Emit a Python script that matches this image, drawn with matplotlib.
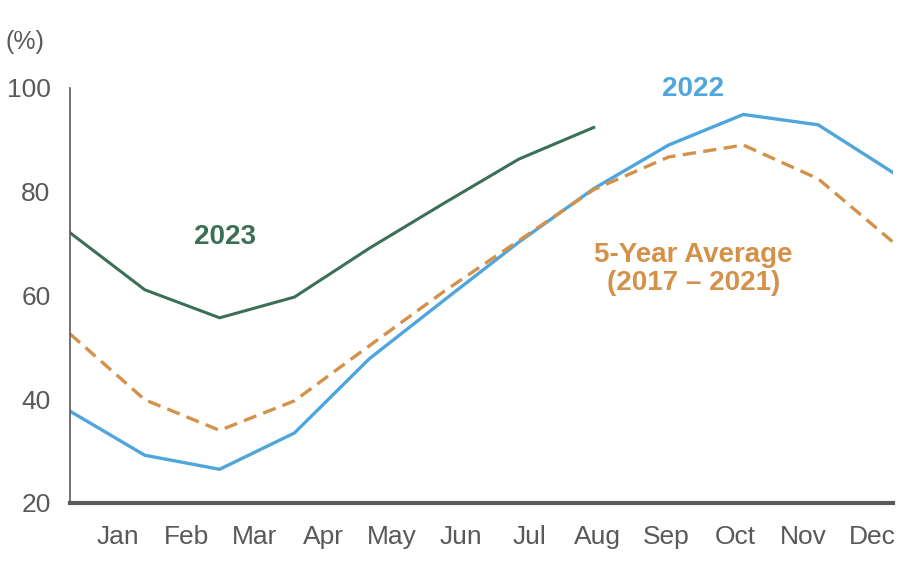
import numpy as np
import matplotlib
matplotlib.use("Agg")
import matplotlib.pyplot as plt

# monthly values, %
months = ['Jan', 'Feb', 'Mar', 'Apr', 'May', 'Jun', 'Jul', 'Aug', 'Sep', 'Oct', 'Nov', 'Dec']
y2023 = [72.1, 61.1, 55.7, 59.7, 69.1, 77.8, 86.3, 92.4]
y2022 = [37.7, 29.2, 26.5, 33.5, 47.8, 59.1, 70.3, 80.6, 89.0, 94.9, 92.9, 83.7]
avg5 = [52.6, 39.9, 34.0, 39.7, 50.3, 60.8, 70.6, 80.4, 86.7, 89.0, 82.5, 70.3]

green = '#3b7058'
blue = '#4fa6dd'
orange = '#d4914a'
grey = '#595959'

plt.rcParams['font.family'] = ['Liberation Sans', 'DejaVu Sans']

fig = plt.figure(figsize=(9.16, 5.71), dpi=100)
ax = fig.add_axes([70/916, 1 - 503/571, 823/916, 415/571])

x = np.arange(len(months))
ax.plot(x[:len(y2023)], y2023, color=green, lw=2.2, solid_joinstyle='miter')
ax.plot(x, y2022, color=blue, lw=2.4, solid_joinstyle='miter')
ax.plot(x, avg5, color=orange, lw=2.4, dashes=(4, 2.2))

ax.set_xlim(0, 11)
ax.set_ylim(20, 100)
ax.set_yticks([20, 40, 60, 80, 100])

# month labels sit a bit off the data points, as in the original
label_pos = np.linspace(0.64, 10.72, 12)
ax.set_xticks(label_pos)
ax.set_xticklabels(months)

ax.tick_params(axis='both', length=0, labelsize=19, colors=grey)
ax.tick_params(axis='y', pad=14)
ax.tick_params(axis='x', pad=16)

for s in ['top', 'right']:
    ax.spines[s].set_visible(False)
ax.spines['left'].set_color(grey)
ax.spines['left'].set_linewidth(1.2)
ax.spines['bottom'].set_color(grey)
ax.spines['bottom'].set_linewidth(3)

ax.text(2.07, 71.3, '2023', color=green, fontsize=20, fontweight='bold', ha='center', va='center')
ax.text(8.33, 99.8, '2022', color=blue, fontsize=20, fontweight='bold', ha='center', va='center')
ax.text(8.33, 65.2, '5-Year Average\n(2017 – 2021)', color=orange, fontsize=20,
        fontweight='bold', ha='center', va='center', linespacing=1.1)

fig.text(25/916, 1 - 42/571, '(%)', color=grey, fontsize=18, ha='center', va='center')

fig.savefig('out.png', dpi=100)
